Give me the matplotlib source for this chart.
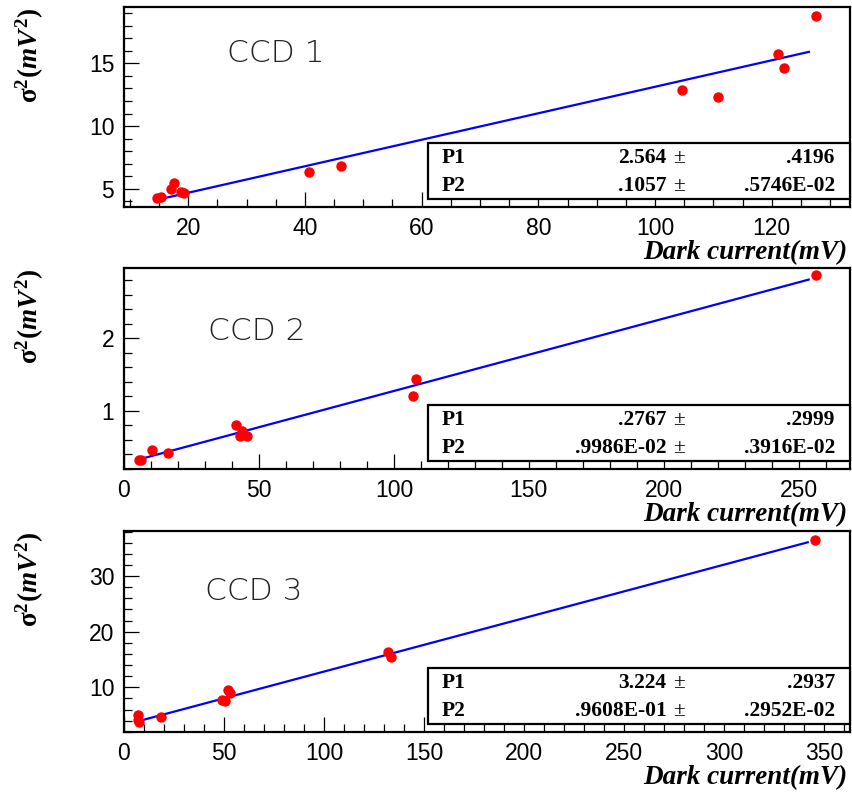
import numpy as np
import matplotlib
matplotlib.use("Agg")
import matplotlib.pyplot as plt
from matplotlib.patches import Rectangle
from matplotlib.ticker import MultipleLocator

plt.rcParams['mathtext.fontset'] = 'custom'
plt.rcParams['mathtext.rm'] = 'Liberation Serif:bold'
plt.rcParams['mathtext.it'] = 'Liberation Serif:italic:bold'
plt.rcParams['mathtext.bf'] = 'Liberation Serif:bold'

# ---- data ----
ccd1_x = [14.7, 15.3, 17.1, 17.5, 18.7, 19.3, 40.7, 46.1, 104.6, 110.7, 121.0, 122.1, 127.6]
ccd1_y = [4.23, 4.31, 5.00, 5.42, 4.72, 4.68, 6.30, 6.83, 12.87, 12.29, 15.74, 14.65, 18.77]
ccd1_p = [2.564, 0.1057]
ccd1_labels = [("2.564", ".4196"), (".1057", ".5746E-02")]

ccd2_x = [5.6, 6.4, 10.2, 16.3, 41.6, 43.6, 42.9, 45.4, 107.2, 108.1, 256.4]
ccd2_y = [0.33, 0.32, 0.46, 0.42, 0.80, 0.73, 0.66, 0.65, 1.21, 1.44, 2.87]
ccd2_p = [0.2767, 0.009986]
ccd2_labels = [(".2767", ".2999"), (".9986E-02", ".3916E-02")]

ccd3_x = [7.0, 7.0, 7.3, 18.7, 49.0, 50.4, 52.0, 53.2, 132.0, 133.4, 345.5]
ccd3_y = [5.03, 4.13, 3.82, 4.72, 7.72, 7.54, 9.52, 8.92, 16.28, 15.50, 36.45]
ccd3_p = [3.224, 0.09608]
ccd3_labels = [("3.224", ".2937"), (".9608E-01", ".2952E-02")]

titles = ["CCD 1", "CCD 2", "CCD 3"]
xlims = [(9, 133.4), (0, 269), (0, 363)]
ylims = [(3.54, 19.5), (0.2, 2.97), (1.97, 38.1)]
xmajor = [20, 50, 50]
xminor = [5, 10, 10]
ymajor = [5, 1, 10]
yminor = [1, 0.2, 2]
title_pos = [(0.142, 0.77), (0.116, 0.685), (0.112, 0.70)]

W, H = 852, 794
fig = plt.figure(figsize=(W / 100, H / 100), dpi=100)

panels = [
    (ccd1_x, ccd1_y, ccd1_p, ccd1_labels, 7, 207),
    (ccd2_x, ccd2_y, ccd2_p, ccd2_labels, 268, 469),
    (ccd3_x, ccd3_y, ccd3_p, ccd3_labels, 531, 732),
]

left_px, right_px = 124, 850
for i, (xs, ys, p, labs, top_px, bot_px) in enumerate(panels):
    ax = fig.add_axes([left_px / W, 1 - bot_px / H, (right_px - left_px) / W, (bot_px - top_px) / H])
    xs = np.array(xs)
    ys = np.array(ys)
    xl = np.array([xs.min(), xs.max() - 0.01 * (xlims[i][1] - xlims[i][0])])
    ax.plot(xl, p[0] + p[1] * xl, color='#0000ff', lw=1.6, zorder=3)
    ax.plot(xs, ys, 'o', color='#ff0000', ms=7.5, mec='none', zorder=4)
    ax.set_xlim(*xlims[i])
    ax.set_ylim(*ylims[i])
    ax.xaxis.set_major_locator(MultipleLocator(xmajor[i]))
    ax.xaxis.set_minor_locator(MultipleLocator(xminor[i]))
    ax.yaxis.set_major_locator(MultipleLocator(ymajor[i]))
    ax.yaxis.set_minor_locator(MultipleLocator(yminor[i]))
    ax.tick_params(which='both', direction='in', top=False, right=False, width=0.9)
    ax.tick_params(which='major', length=10.5, pad=7, labelsize=16.5)
    ax.tick_params(which='minor', length=5.5)
    for lab in ax.get_xticklabels() + ax.get_yticklabels():
        lab.set_family('Liberation Sans')
    for s in ax.spines.values():
        s.set_linewidth(1.6)

    ax.text(title_pos[i][0], title_pos[i][1], titles[i], transform=ax.transAxes,
            fontsize=22.5, family='DejaVu Sans', fontweight=200, color='#222222',
            ha='left', va='center')

    # y label
    ax.text(-0.129, 0.995, r'$\mathrm{\sigma}^{2}(mV^{2})$', transform=ax.transAxes,
            rotation=90, ha='center', va='top', fontsize=19.5)
    # x label
    ax.annotate('Dark current(mV)', xy=(0.997, 0), xycoords='axes fraction',
                xytext=(0, -37.5), textcoords='offset points',
                ha='right', va='baseline', fontsize=19.5,
                family='Liberation Serif', fontweight='bold', style='italic')

    # stat box
    ax.add_patch(Rectangle((0.4187, 0.04), 1 - 0.4187, 0.278, transform=ax.transAxes,
                           facecolor='white', edgecolor='black', lw=1.6, zorder=5, clip_on=False))
    rows = [0.218, 0.078]
    for r, (name, (val, err)) in enumerate(zip(["P1", "P2"], labs)):
        kw = dict(transform=ax.transAxes, fontsize=15.5, family='Liberation Serif',
                  fontweight='bold', va='baseline', zorder=6)
        ax.text(0.4376, rows[r], name, ha='left', **kw)
        ax.text(0.7475, rows[r], val, ha='right', **kw)
        ax.text(0.7645, rows[r], '\u00b1', ha='center', transform=ax.transAxes, fontsize=15.5,
                family='Liberation Serif', va='baseline', zorder=6)
        ax.text(0.979, rows[r], err, ha='right', **kw)

fig.savefig('out.png', dpi=100)
